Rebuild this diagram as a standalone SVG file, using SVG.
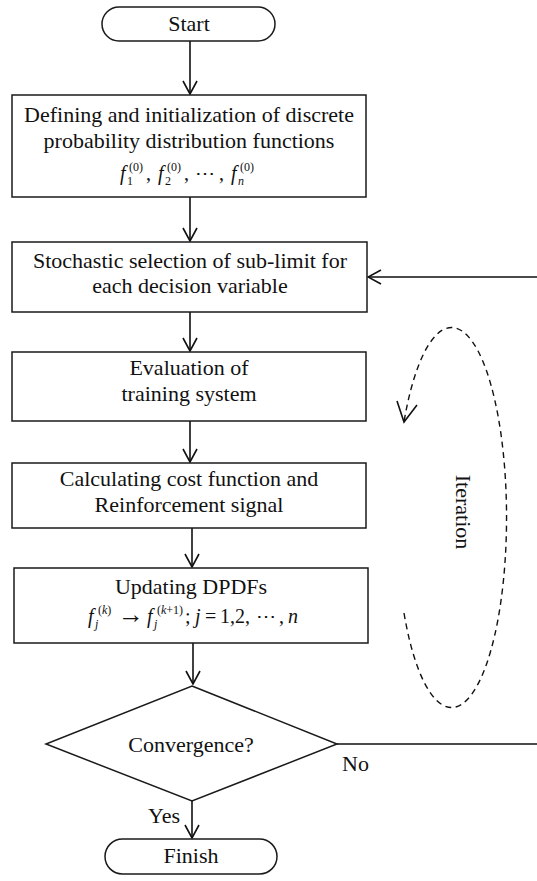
<svg xmlns="http://www.w3.org/2000/svg" width="537" height="881" viewBox="0 0 537 881">
<defs>
<style>
.shape{fill:#fff;stroke:#1a1a1a;stroke-width:1.5}
.t{font-family:"Liberation Serif","Times New Roman",serif;font-size:22px;fill:#111;text-anchor:middle}
.m{font-family:"Liberation Serif","Times New Roman",serif;font-size:20px;fill:#111}
.mi{font-style:italic}
.s{font-family:"Liberation Serif","Times New Roman",serif;font-size:12px;fill:#111}
.lbl{font-family:"Liberation Serif","Times New Roman",serif;font-size:22px;fill:#111}
.conn{fill:none;stroke:#111;stroke-width:1.6}
.dash{fill:none;stroke:#111;stroke-width:1.4;stroke-dasharray:6 4.5}
</style>
<marker id="arr" viewBox="-14 -8 15 16" refX="0" refY="0" markerWidth="15" markerHeight="16" markerUnits="userSpaceOnUse" orient="auto">
<path d="M-13,-7 L0,0 L-13,7" fill="none" stroke="#111" stroke-width="1.6"/>
</marker>
</defs>
<rect width="537" height="881" fill="#fff"/>

<g id="connectors">
<path class="conn" d="M190,41 V94" marker-end="url(#arr)"/>
<path class="conn" d="M190,197 V241" marker-end="url(#arr)"/>
<path class="conn" d="M190,312 V351" marker-end="url(#arr)"/>
<path class="conn" d="M190,421 V462" marker-end="url(#arr)"/>
<path class="conn" d="M192,528 V567" marker-end="url(#arr)"/>
<path class="conn" d="M193,643 V684" marker-end="url(#arr)"/>
<path class="conn" d="M192,801 V838" marker-end="url(#arr)"/>
<path class="conn" d="M337,744 H540 V277 H368" marker-end="url(#arr)"/>
<text class="lbl" x="342" y="771">No</text>
<text class="lbl" x="148" y="823">Yes</text>
</g>

<g id="iteration">
<path class="dash" d="M404,613 A55,190 0 1 0 404,422"/>
<path class="conn" d="M397,401 L404,422 L417,405"/>
<text class="t" transform="translate(456,512) rotate(90)" x="0" y="0">Iteration</text>
</g>

<g id="start">
<rect class="shape" x="102" y="7" width="173" height="34" rx="17" ry="17"/>
<text class="t" x="189" y="31">Start</text>
</g>

<g id="init">
<rect class="shape" x="12" y="95" width="354" height="102"/>
<text class="t" x="189" y="122">Defining and initialization of discrete</text>
<text class="t" x="189" y="148">probability distribution functions</text>
<text class="m mi" x="120" y="180">f</text>
<text class="s" x="127" y="185">1</text>
<text class="s" x="129" y="171">(0)</text>
<text class="m" x="146" y="180">,</text>
<text class="m mi" x="158" y="180">f</text>
<text class="s" x="165" y="185">2</text>
<text class="s" x="167" y="171">(0)</text>
<text class="m" x="184" y="180">,</text>
<text class="m" x="195" y="180">⋯</text>
<text class="m" x="219" y="180">,</text>
<text class="m mi" x="231" y="180">f</text>
<text class="s mi" x="238" y="185">n</text>
<text class="s" x="240" y="171">(0)</text>
</g>

<g id="select">
<rect class="shape" x="12" y="242" width="355" height="70"/>
<text class="t" x="190" y="268">Stochastic selection of sub-limit for</text>
<text class="t" x="190" y="293">each decision variable</text>
</g>

<g id="evaluate">
<rect class="shape" x="12" y="352" width="354" height="69"/>
<text class="t" x="189" y="375">Evaluation of</text>
<text class="t" x="189" y="401">training system</text>
</g>

<g id="cost">
<rect class="shape" x="12" y="463" width="354" height="65"/>
<text class="t" x="189" y="486">Calculating cost function and</text>
<text class="t" x="189" y="512">Reinforcement signal</text>
</g>

<g id="update">
<rect class="shape" x="14" y="568" width="354" height="75"/>
<text class="t" x="191" y="594">Updating DPDFs</text>
<text class="m mi" x="88" y="623">f</text>
<text class="s mi" x="95" y="628">j</text>
<text class="s" x="98" y="614">(<tspan class="mi">k</tspan>)</text>
<text class="m" x="118" y="623" style="font-size:26px">→</text>
<text class="m mi" x="147" y="623">f</text>
<text class="s mi" x="154" y="628">j</text>
<text class="s" x="157" y="614">(<tspan class="mi">k</tspan>+1)</text>
<text class="m" x="185" y="623">;</text>
<text class="m mi" x="195" y="623">j</text>
<text class="m" x="205" y="623">=</text>
<text class="m" x="220" y="623">1,2,</text>
<text class="m" x="256" y="623">⋯</text>
<text class="m" x="279" y="623">,</text>
<text class="m mi" x="288" y="623">n</text>
</g>

<g id="converge">
<polygon class="shape" points="192,686 337,744 192,801 46,744"/>
<text class="t" x="191" y="752">Convergence?</text>
</g>

<g id="finish">
<rect class="shape" x="105" y="839" width="172" height="35" rx="17.5" ry="17.5"/>
<text class="t" x="191" y="863">Finish</text>
</g>
</svg>
